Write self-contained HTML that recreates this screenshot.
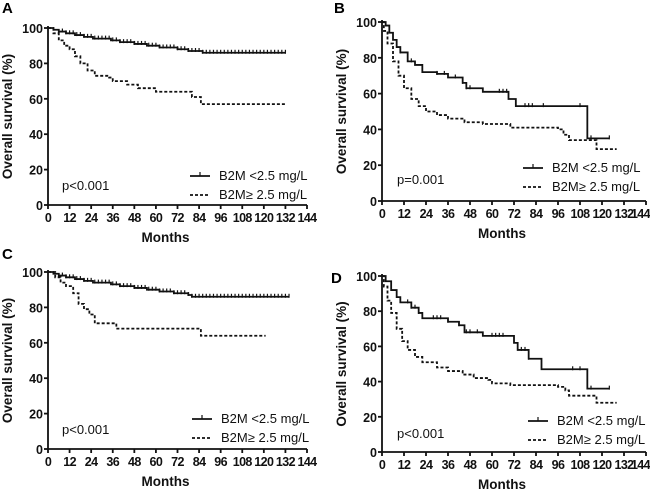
<!DOCTYPE html>
<html><head><meta charset="utf-8"><style>
body{margin:0;background:#fff;}
svg{display:block;font-family:"Liberation Sans",Arial,sans-serif;}
.t{font-size:12.5px;font-weight:bold;fill:#111;}
.yt{font-size:13.5px;font-weight:bold;fill:#111;}
.lg{font-size:13px;fill:#111;}
</style></head><body>
<svg id="chart" width="650" height="489" viewBox="0 0 650 489"></svg>
<script>
const xTicks=[0,12,24,36,48,60,72,84,96,108,120,132,144];
const yTicks=[0,20,40,60,80,100];
const aLow=[[0,100],[3,99],[6,98],[10,97],[15,96],[20,95],[25,94],[35,93],[40,92],[48,91],[55,90],[62,89],[72,88],[78,87],[86,86],[132,86]];
const aHigh=[[0,100],[3,97],[6,93],[9,90],[12,88],[15,84],[18,80],[22,76],[26,73],[34,72],[36,70],[44,68],[50,66],[60,64],[78,64],[80,61],[85,57],[132,57]];
const bLow=[[0,100],[2,98],[4,94],[6,90],[8,86],[10,83],[14,78],[18,76],[22,72],[30,71],[36,69],[44,66],[46,63],[55,61],[69,57],[73,53],[112,53],[112,35],[124,35]];
const bHigh=[[0,100],[1,95],[3,88],[6,78],[9,70],[12,63],[16,57],[20,53],[24,50],[30,48],[36,46],[45,44],[55,43],[70,41],[96,40],[99,37],[102,34],[116,34],[117,29],[128,29]];
const cLow=[[0,100],[3,99],[6,98],[10,97],[15,96],[20,95],[25,94],[35,93],[40,92],[48,91],[55,90],[62,89],[70,88],[78,87],[80,86],[134,86]];
const cHigh=[[0,100],[4,97],[7,94],[10,92],[14,88],[17,82],[20,79],[23,76],[26,71],[37,71],[38,68],[84,68],[85,64],[121,64]];
const dLow=[[0,100],[2,97],[5,92],[8,88],[10,85],[16,82],[20,79],[22,76],[36,74],[42,72],[45,68],[55,66],[72,62],[74,58],[80,53],[87,47],[112,47],[112,36],[124,36]];
const dHigh=[[0,100],[1,94],[3,86],[5,79],[8,70],[11,63],[14,58],[18,54],[22,51],[30,48],[36,46],[44,44],[50,42],[58,41],[60,39],[70,38],[96,37],[100,35],[102,32],[116,32],[117,28],[128,28]];
const aCens=[8,10,12,14,16,18,20,22,24,26,28,30,32,34,36,38,40,42,44,46,48,50,52,54,56,58,60,62,64,66,68,70,72,74,76,78,80,82,84,86,88,90,92,94,96,98,100,102,104,106,108,110,112,114,116,118,120,122,124,126,128,130,132];
const bCens=[10,16,30,34,40,44,46,48,64,66,68,78,80,82,88,108,114,124];
const cCens=[8,10,12,14,16,18,20,22,24,26,28,30,32,34,36,38,40,42,44,46,48,50,52,54,56,58,60,62,64,66,68,70,72,74,76,78,80,82,84,86,88,90,92,94,96,98,100,102,104,106,108,110,112,114,116,118,120,122,124,126,128,130,132,134];
const dCens=[14,16,18,20,28,30,32,36,42,46,48,52,60,62,64,66,76,78,80,104,108,114,124];
const panels=[
 {id:'a',label:'A',p:'p<0.001',x0:48,x1:307,y0:205,y1:28,low:aLow,high:aHigh,cens:aCens,lgx:190,lgy:176,px:62,py:190,lx:2,ly:13},
 {id:'b',label:'B',p:'p=0.001',x0:382,x1:646,y0:201,y1:22,low:bLow,high:bHigh,cens:bCens,lgx:523,lgy:168,px:397,py:184,lx:334,ly:13},
 {id:'c',label:'C',p:'p<0.001',x0:48,x1:307,y0:449,y1:272,low:cLow,high:cHigh,cens:cCens,lgx:192,lgy:419,px:62,py:434,lx:2,ly:259},
 {id:'d',label:'D',p:'p<0.001',x0:382,x1:646,y0:452,y1:276,low:dLow,high:dHigh,cens:dCens,lgx:528,lgy:421,px:397,py:438,lx:331,ly:283}
];
const svg=document.getElementById('chart');
const NS='http://www.w3.org/2000/svg';
function mk(tag,attrs,parent,text){const e=document.createElementNS(NS,tag);for(const k in attrs)e.setAttribute(k,attrs[k]);if(text!==undefined)e.textContent=text;parent.appendChild(e);return e;}
function stepVal(d,t){let v=d[0][1];for(const p of d){if(p[0]<=t)v=p[1];}return v;}
panels.forEach(P=>{
 const g=mk('g',{},svg);
 
 
 const X=t=>P.x0+(P.x1-P.x0)*t/144, Y=v=>P.y0+(P.y1-P.y0)*v/100;
 const lab=mk('text',{x:P.lx,y:P.ly,'font-size':'15','font-weight':'bold'},g,P.label);
 
 
 const ax=mk('path',{d:`M${P.x0},${P.y1-2}V${P.y0}H${P.x1}`,stroke:'#111','stroke-width':'1.8',fill:'none'},g);
 
 
 yTicks.forEach(v=>{
  mk('line',{x1:P.x0-4,x2:P.x0,y1:Y(v),y2:Y(v),stroke:'#111','stroke-width':'1.8'},g);
  const t=mk('text',{x:P.x0-5,y:Y(v)+5,'text-anchor':'end',class:'t','font-size':'13.5'},g,v);
  
  
 });
 const right=P.x1>600;
 xTicks.forEach((v,i)=>{
  mk('line',{x1:X(v),x2:X(v),y1:P.y0,y2:P.y0+4,stroke:'#111','stroke-width':'1.8'},g);
  const last=right&&i===xTicks.length-1;
  const t=mk('text',{x:last?650:X(v),y:P.y0+17,'text-anchor':last?'end':'middle',class:'t','letter-spacing':'-0.6'},g,v);
  
  
 });
 const xt=mk('text',{x:(P.x0+P.x1)/2-12,y:P.y0+37,'text-anchor':'middle',class:'yt'},g,'Months');
 
 
 const yc=(P.y0+P.y1)/2;
 const yx=P.x0-36;
 const yt=mk('text',{x:yx,y:yc,'text-anchor':'middle',class:'yt',transform:`rotate(-90 ${yx} ${yc})`},g,'Overall survival (%)');
 
 
 function path(d){let s=`M${X(d[0][0])},${Y(d[0][1])}`;for(let i=1;i<d.length;i++){s+=`H${X(d[i][0])}V${Y(d[i][1])}`;}return s;}
 const lo=mk('path',{d:path(P.low),stroke:'#111','stroke-width':'1.8',fill:'none'},g);
 
 
 const hi=mk('path',{d:path(P.high),stroke:'#111','stroke-width':'1.8',fill:'none','stroke-dasharray':'3,2'},g);
 
 
 P.cens.forEach(t=>{
  const v=stepVal(P.low,t);
  const c=mk('line',{x1:X(t),x2:X(t),y1:Y(v)-3,y2:Y(v)+1,stroke:'#111','stroke-width':'1.2'},g);
  
  
 });
 const l1=mk('g',{},g);
 
 
 mk('line',{x1:P.lgx,x2:P.lgx+20,y1:P.lgy,y2:P.lgy,stroke:'#111','stroke-width':'1.8'},l1);
 mk('line',{x1:P.lgx+10,x2:P.lgx+10,y1:P.lgy-4,y2:P.lgy,stroke:'#111','stroke-width':'1.2'},l1);
 mk('text',{x:P.lgx+29,y:P.lgy+4,class:'lg'},l1,'B2M <2.5 mg/L');
 const l2=mk('g',{},g);
 
 
 mk('line',{x1:P.lgx,x2:P.lgx+20,y1:P.lgy+19,y2:P.lgy+19,stroke:'#111','stroke-width':'1.8','stroke-dasharray':'3,2'},l2);
 mk('text',{x:P.lgx+29,y:P.lgy+23,class:'lg'},l2,'B2M\u2265 2.5 mg/L');
 const pt=mk('text',{x:P.px,y:P.py,class:'lg'},g,P.p);
 
 
});
</script>
</body></html>
